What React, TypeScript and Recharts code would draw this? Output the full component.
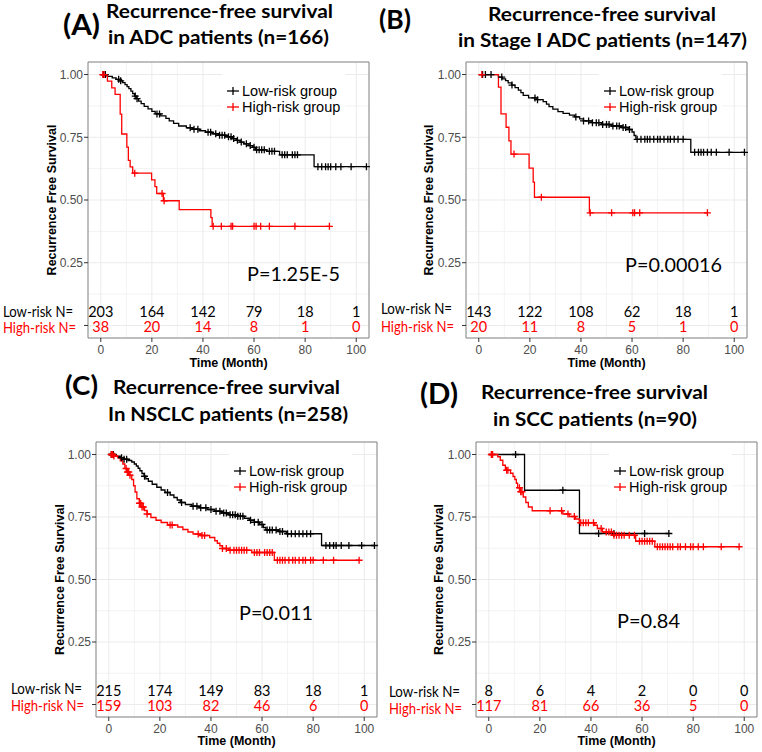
import React from 'react';
import { ComposedChart, Line, Scatter, XAxis, YAxis, CartesianGrid, ReferenceArea, Legend } from 'recharts';

// number-at-risk table columns
const riskMonths = [0, 20, 40, 60, 80, 100];

// (A) ADC patients
const adcLowT = [2.5, 4.5, 6, 7.5, 8.5, 9.5, 10.3, 11, 11.8, 12.5, 13.2, 14, 14.8, 15.8, 17, 18.5, 20, 21.3, 23.5, 25.5, 26.8, 28.5, 30.5, 33.5, 36, 38.5, 41, 43.5, 46, 49, 51.5, 53, 54.5, 56, 58, 59.5, 60.5, 65, 70, 83.5];
const adcLowS = [0.993, 0.987, 0.981, 0.975, 0.968, 0.96, 0.952, 0.944, 0.934, 0.924, 0.914, 0.904, 0.894, 0.884, 0.873, 0.863, 0.853, 0.843, 0.835, 0.825, 0.815, 0.805, 0.795, 0.788, 0.782, 0.776, 0.77, 0.764, 0.758, 0.752, 0.745, 0.738, 0.731, 0.724, 0.717, 0.71, 0.7, 0.694, 0.68, 0.633];
const adcLowCens = [1, 1.8, 7, 7.8, 13.5, 14.2, 22, 23, 35, 36.5, 38, 42, 43, 45, 46.5, 47.5, 48.5, 50, 51, 52, 53.5, 55, 57, 58.5, 60, 61, 62, 63, 64, 66, 67, 68, 71, 72, 73, 75, 76, 77, 85, 86.5, 88, 89, 90, 92, 94, 98, 104];
const adcHighT = [2.6, 4.3, 5.6, 7.6, 8.2, 10.2, 10.8, 11.5, 12.5, 19.9, 21.2, 21.9, 24.5, 30.7, 43.1, 43.6];
const adcHighS = [0.974, 0.947, 0.921, 0.842, 0.763, 0.711, 0.658, 0.632, 0.607, 0.58, 0.553, 0.526, 0.497, 0.462, 0.43, 0.395];
const adcHighCens = [0.8, 1.3, 13.3, 24, 24.8, 44, 47.2, 51, 51.6, 60, 60.8, 62.6, 66, 76, 89.5];
const adcLowN = [203, 164, 142, 79, 18, 1];
const adcHighN = [38, 20, 14, 8, 1, 0];

// (B) Stage I ADC patients
const stageLowT = [7.7, 9.2, 10.5, 11.5, 12.9, 14.2, 15.5, 16.5, 17.4, 19.5, 22.8, 25.2, 26.5, 27.5, 29, 31, 33, 35.5, 37.5, 39.5, 41, 44, 48, 52, 56, 58.5, 60, 60.8, 61.5, 83];
const stageLowS = [0.99, 0.983, 0.976, 0.967, 0.958, 0.948, 0.938, 0.928, 0.917, 0.907, 0.9, 0.892, 0.882, 0.872, 0.862, 0.852, 0.845, 0.838, 0.831, 0.823, 0.815, 0.808, 0.801, 0.795, 0.789, 0.781, 0.771, 0.757, 0.742, 0.69];
const stageLowCens = [1.5, 2.6, 4.8, 9, 13, 22, 23, 38, 41, 43, 44.5, 46, 47, 48.5, 50, 51, 52.5, 54, 55, 56.5, 57.5, 59, 62, 63.5, 65, 66, 67, 68.5, 70, 71, 72.5, 74, 75, 76.5, 78, 80, 84.5, 86, 87, 88, 89.5, 91, 93, 98, 104];
const stageHighT = [7.7, 8.7, 10.7, 11.8, 12.6, 19.7, 21.3, 21.8, 43.3];
const stageHighS = [0.95, 0.843, 0.79, 0.736, 0.683, 0.627, 0.571, 0.511, 0.449];
const stageHighCens = [1.2, 13.8, 24.5, 43.6, 52, 60.3, 61, 63, 89.5];
const stageLowN = [143, 122, 108, 62, 18, 1];
const stageHighN = [20, 11, 8, 5, 1, 0];

// (C) NSCLC patients
const nsclcLowT = [2.5, 4.5, 6, 7.5, 9, 10, 10.8, 11.5, 12.2, 13, 13.8, 14.5, 15.5, 17, 18.8, 20.5, 22, 24, 25.5, 26.8, 28, 30, 32.5, 35.5, 38.5, 41.5, 44, 47, 50.5, 53, 55, 57, 59, 60.5, 61.5, 66.5, 69.5, 83.3];
const nsclcLowS = [0.993, 0.987, 0.981, 0.976, 0.97, 0.962, 0.954, 0.945, 0.935, 0.924, 0.913, 0.903, 0.893, 0.881, 0.869, 0.858, 0.848, 0.838, 0.828, 0.818, 0.808, 0.8, 0.793, 0.787, 0.78, 0.773, 0.766, 0.759, 0.753, 0.745, 0.737, 0.729, 0.72, 0.708, 0.698, 0.692, 0.683, 0.636];
const nsclcLowCens = [1, 1.8, 5, 6, 7, 14, 23, 28.5, 33, 34.5, 36, 38, 40, 42, 43.5, 45, 46, 47.5, 48.5, 49.5, 50.5, 51.5, 52.5, 55.5, 57, 58.5, 60, 62, 63, 64, 65.5, 67, 68, 70, 71.5, 73, 74.5, 76, 77.5, 79, 85, 86.5, 88, 89, 91, 94, 99, 104];
const nsclcHighT = [2, 3.5, 4.5, 5.5, 6.3, 7, 8, 9, 9.7, 10.3, 11, 12, 13, 14, 15, 16.5, 18.5, 20.5, 23, 27, 29, 31, 33, 36, 39.5, 41.5, 42.5, 43.5, 44.5, 47, 56, 64.8];
const nsclcHighS = [0.994, 0.987, 0.975, 0.962, 0.944, 0.93, 0.917, 0.9, 0.875, 0.85, 0.823, 0.805, 0.79, 0.776, 0.762, 0.748, 0.737, 0.728, 0.718, 0.71, 0.7, 0.69, 0.682, 0.676, 0.668, 0.655, 0.645, 0.635, 0.624, 0.617, 0.608, 0.577];
const nsclcHighCens = [1, 1.5, 2, 6.8, 7.3, 7.8, 8.3, 12, 12.5, 13, 13.5, 15, 24, 24.8, 35, 36.5, 37.5, 44.5, 46, 47.5, 49, 50, 51, 52, 53, 54, 57, 58, 59, 61, 62, 63, 64, 66, 67, 68, 69, 70.5, 72, 73, 74.5, 76, 77, 79, 80, 84, 88, 98];
const nsclcLowN = [215, 174, 149, 83, 18, 1];
const nsclcHighN = [159, 103, 82, 46, 6, 0];

// (D) SCC patients
const sccLowT = [14, 35.5];
const sccLowS = [0.857, 0.684];
const sccLowCens = [10.5, 29, 43, 49, 61, 70.5];
const sccHighT = [3.5, 4.5, 5.5, 6.5, 8.5, 9.5, 10.2, 10.8, 11.3, 12.5, 13.5, 14.5, 15.5, 17, 29, 31.5, 34, 35.5, 41.5, 42.5, 44.5, 48.5, 57.5, 65];
const sccHighS = [0.991, 0.977, 0.957, 0.937, 0.925, 0.912, 0.9, 0.885, 0.867, 0.851, 0.83, 0.808, 0.79, 0.775, 0.762, 0.752, 0.742, 0.727, 0.717, 0.704, 0.69, 0.677, 0.653, 0.631];
const sccHighCens = [1, 1.5, 7, 7.5, 12, 12.5, 13, 24, 28.5, 31, 33.5, 36, 37, 38, 39, 41, 44, 46, 47, 48, 49, 50, 51, 52, 53, 55, 57, 59, 60, 61, 62, 63, 64, 66, 67, 68, 69, 70, 71, 72, 74, 75, 77, 79, 80, 82, 84, 91, 98];
const sccLowN = [8, 6, 4, 2, 0, 0];
const sccHighN = [117, 81, 66, 36, 5, 0];

const groupNames = ['Low-risk group', 'High-risk group'];

const titleFont = 'Lato, "Open Sans", sans-serif';
const axisFont = '"Liberation Sans", Arial, sans-serif';
const RED = '#ff0000';

type Pt = { t: number; s: number; c: boolean };

// merge event steps and censor times into one step-line series
function kmData(stepT: number[], stepS: number[], cens: number[]): Pt[] {
  const pts: Pt[] = [{ t: 0, s: 1, c: false }];
  stepT.forEach((t, i) => pts.push({ t, s: stepS[i], c: false }));
  cens.forEach((t) => pts.push({ t, s: 1, c: true }));
  pts.sort((a, b) => a.t - b.t || (a.c ? 1 : 0) - (b.c ? 1 : 0));
  let cur = 1;
  pts.forEach((p) => {
    if (p.c) p.s = cur;
    else cur = p.s;
  });
  return pts;
}

const censorDot = (color: string) => (props: any) => {
  const { cx, cy, payload, index } = props;
  if (!payload || !payload.c || cx == null) return <g key={'n' + index} />;
  return (
    <path key={'c' + index} d={`M${cx - 3.5},${cy}h7M${cx},${cy - 3.5}v7`} stroke={color} strokeWidth={1.3} fill="none" />
  );
};

const riskLabel = (color: string) => (props: any) => (
  <text x={props.cx} y={props.cy} dy="0.36em" textAnchor="middle" fontFamily={titleFont} fontSize={14.5} fill={color}>
    {props.payload.n}
  </text>
);

const LegendBox = (props: any) => {
  const items = (props.payload || [])
    .filter((p: any) => p.type !== 'none')
    .sort((a: any, b: any) => groupNames.indexOf(a.value) - groupNames.indexOf(b.value));
  return (
    <div style={{ background: '#fff', padding: '20px 5px 3px 5px', fontFamily: axisFont, fontSize: 14.5, color: '#000' }}>
      {items.map((p: any) => (
        <div key={p.value} style={{ display: 'flex', alignItems: 'center', height: 16, whiteSpace: 'nowrap' }}>
          <svg width={12} height={14} style={{ display: 'block' }}>
            <line x1={0} x2={12} y1={7} y2={7} stroke={p.color} strokeWidth={1.3} />
            <line x1={6} x2={6} y1={3} y2={11} stroke={p.color} strokeWidth={1.3} />
          </svg>
          <span style={{ marginLeft: 3, lineHeight: '16px' }}>{p.value}</span>
        </div>
      ))}
    </div>
  );
};

const majorX = [0, 20, 40, 60, 80, 100];
const minorX = [10, 30, 50, 70, 90];
const majorY = [0, 0.25, 0.5, 0.75, 1];
const minorY = [0.125, 0.375, 0.625, 0.875];

const panels = [
  {
    id: 'A', left: 0, top: 0, margin: { top: 62, right: 12, bottom: 6, left: 43 }, yOff: 9, xOff: 3.5, legend: { left: 222, top: 63 },
    low: kmData(adcLowT, adcLowS, adcLowCens), high: kmData(adcHighT, adcHighS, adcHighCens), lowN: adcLowN, highN: adcHighN,
  },
  {
    id: 'B', left: 381, top: 0, margin: { top: 62, right: 15, bottom: 6, left: 40 }, yOff: 8, xOff: 3.5, legend: { left: 218, top: 63 },
    low: kmData(stageLowT, stageLowS, stageLowCens), high: kmData(stageHighT, stageHighS, stageHighCens), lowN: stageLowN, highN: stageHighN,
  },
  {
    id: 'C', left: 0, top: 376, margin: { top: 66, right: 4, bottom: 3, left: 51 }, yOff: 9, xOff: 4, legend: { left: 229, top: 67 },
    low: kmData(nsclcLowT, nsclcLowS, nsclcLowCens), high: kmData(nsclcHighT, nsclcHighS, nsclcHighCens), lowN: nsclcLowN, highN: nsclcHighN,
  },
  {
    id: 'D', left: 381, top: 376, margin: { top: 66, right: 5, bottom: 3, left: 50 }, yOff: 8, xOff: 4, legend: { left: 228, top: 67 },
    low: kmData(sccLowT, sccLowS, sccLowCens), high: kmData(sccHighT, sccHighS, sccHighCens), lowN: sccLowN, highN: sccHighN,
  },
];

const KmPanel = ({ p }: { p: any }) => {
  const lowRisk = riskMonths.map((t, i) => ({ t, s: 0.056, n: p.lowN[i] }));
  const highRisk = riskMonths.map((t, i) => ({ t, s: -0.007, n: p.highN[i] }));
  const tickStyle = { fontSize: 12, fill: '#4d4d4d', fontFamily: axisFont };
  return (
    <div style={{ position: 'absolute', left: p.left, top: p.top }}>
      <ComposedChart width={381} height={376} margin={p.margin}>
        <CartesianGrid stroke="#f3f3f3" verticalValues={minorX} horizontalValues={minorY} />
        <CartesianGrid stroke="#ebebeb" verticalValues={majorX} horizontalValues={majorY} />
        <XAxis
          type="number" dataKey="t" domain={[-5, 105]} ticks={riskMonths} height={32}
          tickSize={4} tickMargin={3} axisLine={false} tickLine={{ stroke: '#333' }} tick={tickStyle}
          label={{ value: 'Time (Month)', position: 'insideBottom', offset: p.xOff, style: { fontSize: 12.5, fontWeight: 700, fill: '#000', fontFamily: axisFont } }}
        />
        <YAxis
          type="number" domain={[-0.05, 1.05]} ticks={majorY} width={45}
          tickSize={4} tickMargin={1} axisLine={false} tickLine={{ stroke: '#333' }} tick={tickStyle}
          tickFormatter={(v: number) => (v === 0 ? '' : v.toFixed(2))}
          label={{ value: 'Recurrence Free Survival', angle: -90, position: 'insideLeft', offset: p.yOff, textAnchor: 'middle', style: { fontSize: 12.5, fontWeight: 700, fill: '#000', fontFamily: axisFont, textAnchor: 'middle' } }}
        />
        <Legend
          layout="vertical" align="center" verticalAlign="middle"
          wrapperStyle={{ left: p.legend.left, top: p.legend.top, width: 'auto', height: 'auto' }}
          content={(props: any) => <LegendBox {...props} />}
        />
        <Line data={p.low} dataKey="s" name={groupNames[0]} type="stepAfter" stroke="#000" strokeWidth={1.3} dot={censorDot('#000')} activeDot={false} isAnimationActive={false} />
        <Line data={p.high} dataKey="s" name={groupNames[1]} type="stepAfter" stroke={RED} strokeWidth={1.3} dot={censorDot(RED)} activeDot={false} isAnimationActive={false} />
        <Scatter data={lowRisk} dataKey="s" legendType="none" shape={riskLabel('#000')} isAnimationActive={false} />
        <Scatter data={highRisk} dataKey="s" legendType="none" shape={riskLabel(RED)} isAnimationActive={false} />
        <ReferenceArea x1={-5} x2={105} y1={-0.05} y2={1.05} fill="none" stroke="#7f7f7f" strokeWidth={1} />
      </ComposedChart>
    </div>
  );
};

// free-standing texts: panel letters, titles, p-values, risk table row names
const letters = [
  { x: 63, y: 35, w: 37, size: 29, text: '(A)' },
  { x: 379, y: 29, w: 32, size: 26, text: '(B)' },
  { x: 65, y: 395, w: 33, size: 26, text: '(C)' },
  { x: 420, y: 404, w: 38, size: 29, text: '(D)' },
];
const titles = [
  { x: 106, y: 18, w: 227, size: 18, text: 'Recurrence-free survival' },
  { x: 108, y: 43.5, w: 221, size: 19.5, text: 'in ADC patients (n=166)' },
  { x: 488, y: 20.7, w: 228, size: 19.5, text: 'Recurrence-free survival' },
  { x: 458, y: 47.3, w: 289, size: 19.5, text: 'in Stage I ADC patients (n=147)' },
  { x: 113, y: 394.3, w: 227, size: 19.5, text: 'Recurrence-free survival' },
  { x: 108, y: 421, w: 240, size: 19.5, text: 'In NSCLC patients (n=258)' },
  { x: 481, y: 399.3, w: 227, size: 19.5, text: 'Recurrence-free survival' },
  { x: 493, y: 426, w: 204, size: 19.5, text: 'in SCC patients (n=90)' },
];
const pValues = [
  { x: 247, y: 280.7, w: 93, text: 'P=1.25E-5' },
  { x: 625, y: 272, w: 97, text: 'P=0.00016' },
  { x: 239, y: 620, w: 74, text: 'P=0.011' },
  { x: 617, y: 628, w: 63, text: 'P=0.84' },
];
const rowNames = [
  { x: 3, y: 316.7, w: 70, text: 'Low-risk N=', red: false },
  { x: 3, y: 333.3, w: 73, text: 'High-risk N=', red: true },
  { x: 381, y: 314, w: 71, text: 'Low-risk N=', red: false },
  { x: 381, y: 331.7, w: 73, text: 'High-risk N=', red: true },
  { x: 11, y: 693.7, w: 71, text: 'Low-risk N=', red: false },
  { x: 11, y: 711, w: 73, text: 'High-risk N=', red: true },
  { x: 389, y: 696.7, w: 71, text: 'Low-risk N=', red: false },
  { x: 389, y: 714.3, w: 73, text: 'High-risk N=', red: true },
];

export default function App() {
  return (
    <div style={{ position: 'absolute', left: 0, top: 0, width: 762, height: 752, background: '#fff', overflow: 'hidden' }}>
      {panels.map((p) => (
        <KmPanel key={p.id} p={p} />
      ))}
      <svg width={762} height={752} style={{ position: 'absolute', left: 0, top: 0, pointerEvents: 'none' }}>
        {letters.map((t) => (
          <text key={t.text} x={t.x} y={t.y} textLength={t.w} lengthAdjust="spacingAndGlyphs" fontFamily={titleFont} fontWeight={700} fontSize={t.size} fill="#000">{t.text}</text>
        ))}
        {titles.map((t, i) => (
          <text key={'t' + i} x={t.x} y={t.y} textLength={t.w} lengthAdjust="spacingAndGlyphs" fontFamily={titleFont} fontWeight={700} fontSize={t.size} fill="#000">{t.text}</text>
        ))}
        {pValues.map((t) => (
          <text key={t.text} x={t.x} y={t.y} textLength={t.w} lengthAdjust="spacingAndGlyphs" fontFamily={titleFont} fontSize={19.5} fill="#000">{t.text}</text>
        ))}
        {rowNames.map((t, i) => (
          <text key={'r' + i} x={t.x} y={t.y} textLength={t.w} lengthAdjust="spacingAndGlyphs" fontFamily={titleFont} fontSize={14.5} fill={t.red ? RED : '#000'}>{t.text}</text>
        ))}
      </svg>
    </div>
  );
}
